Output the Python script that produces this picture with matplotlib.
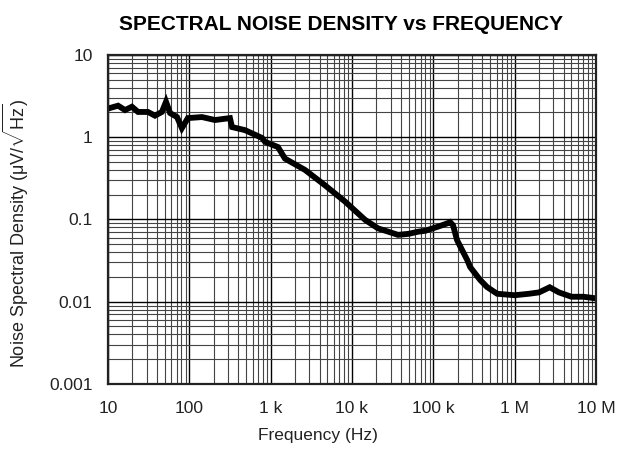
import matplotlib
matplotlib.use("Agg")
import matplotlib.pyplot as plt
from matplotlib.ticker import FixedLocator, LogLocator, NullFormatter

plt.rcParams['font.family'] = ['Liberation Sans', 'DejaVu Sans']
plt.rcParams['mathtext.fontset'] = 'custom'
plt.rcParams['mathtext.rm'] = 'Liberation Sans'
plt.rcParams['mathtext.it'] = 'Liberation Sans:italic'

# values (Hz, uV/rtHz)
freq = [10.6, 13.3, 16.2, 19.7, 23.4, 31, 37.8, 46, 51.7, 58, 70.6, 81, 96,
        143, 207, 316, 335, 484, 784, 853, 1230, 1500, 2650, 4670, 8230,
        14500, 20900, 36900, 50000, 65000, 80000, 115000, 150000, 161000,
        175000, 196000, 262000, 284000, 377000, 458000, 610000, 1000000,
        1500000, 2000000, 2700000, 3500000, 5000000, 7000000, 10000000]
noise = [2.27, 2.42, 2.14, 2.35, 2.03, 2.03, 1.83, 2.03, 2.7, 1.97, 1.76, 1.29,
         1.71, 1.76, 1.62, 1.71, 1.33, 1.22, 0.98, 0.88, 0.76, 0.55, 0.40,
         0.26, 0.165, 0.099, 0.078, 0.065, 0.067, 0.071, 0.073, 0.082, 0.09,
         0.093, 0.085, 0.056, 0.032, 0.0264, 0.0184, 0.0151, 0.0125, 0.012,
         0.0125, 0.013, 0.015, 0.013, 0.0115, 0.0115, 0.011]

xticks = [10, 100, 1e3, 1e4, 1e5, 1e6, 1e7]
xlabels = ['10', '100', '1 k', '10 k', '100 k', '1 M', '10 M']
yticks = [0.001, 0.01, 0.1, 1, 10]
ylabels = ['0.001', '0.01', '0.1', '1', '10']

fig = plt.figure(figsize=(6.26, 4.49), dpi=100)
ax = fig.add_axes([0.1725, 0.1448, 0.952 - 0.1725, 0.8775 - 0.1448])

ax.plot(freq, noise, color='black', lw=4.2, solid_joinstyle='miter')

ax.set_xscale('log')
ax.set_yscale('log')
ax.set_xlim(10, 1e7)
ax.set_ylim(0.001, 10)

ax.xaxis.set_major_locator(FixedLocator(xticks))
ax.set_xticklabels(xlabels)
ax.yaxis.set_major_locator(FixedLocator(yticks))
ax.set_yticklabels(ylabels)
for axis in (ax.xaxis, ax.yaxis):
    axis.set_minor_locator(LogLocator(base=10, subs=range(2, 10), numticks=20))
    axis.set_minor_formatter(NullFormatter())

ax.grid(which='major', color='black', lw=1.0)
ax.grid(which='minor', color='#444444', lw=0.8)
ax.set_axisbelow(True)
ax.tick_params(which='both', length=0, labelsize=12.5, colors='#222222')
ax.tick_params(axis='x', pad=12)
ax.tick_params(axis='y', pad=11)
for sp in ax.spines.values():
    sp.set_linewidth(1.6)
    sp.set_color('#222222')

ax.set_xlabel('Frequency (Hz)', fontsize=12.5, color='#222222')
ax.xaxis.set_label_coords(0.43, -0.135)
ax.set_ylabel('Noise Spectral Density (\u03bcV/' + r'$\sqrt{\mathrm{Hz}}$' + ')',
              fontsize=13, color='#222222')
ax.yaxis.set_label_coords(-0.158, 0.46)
ax.set_title('SPECTRAL NOISE DENSITY vs FREQUENCY', fontsize=15,
             fontweight='bold', pad=18, x=0.477)

fig.savefig('out.png', dpi=100)
